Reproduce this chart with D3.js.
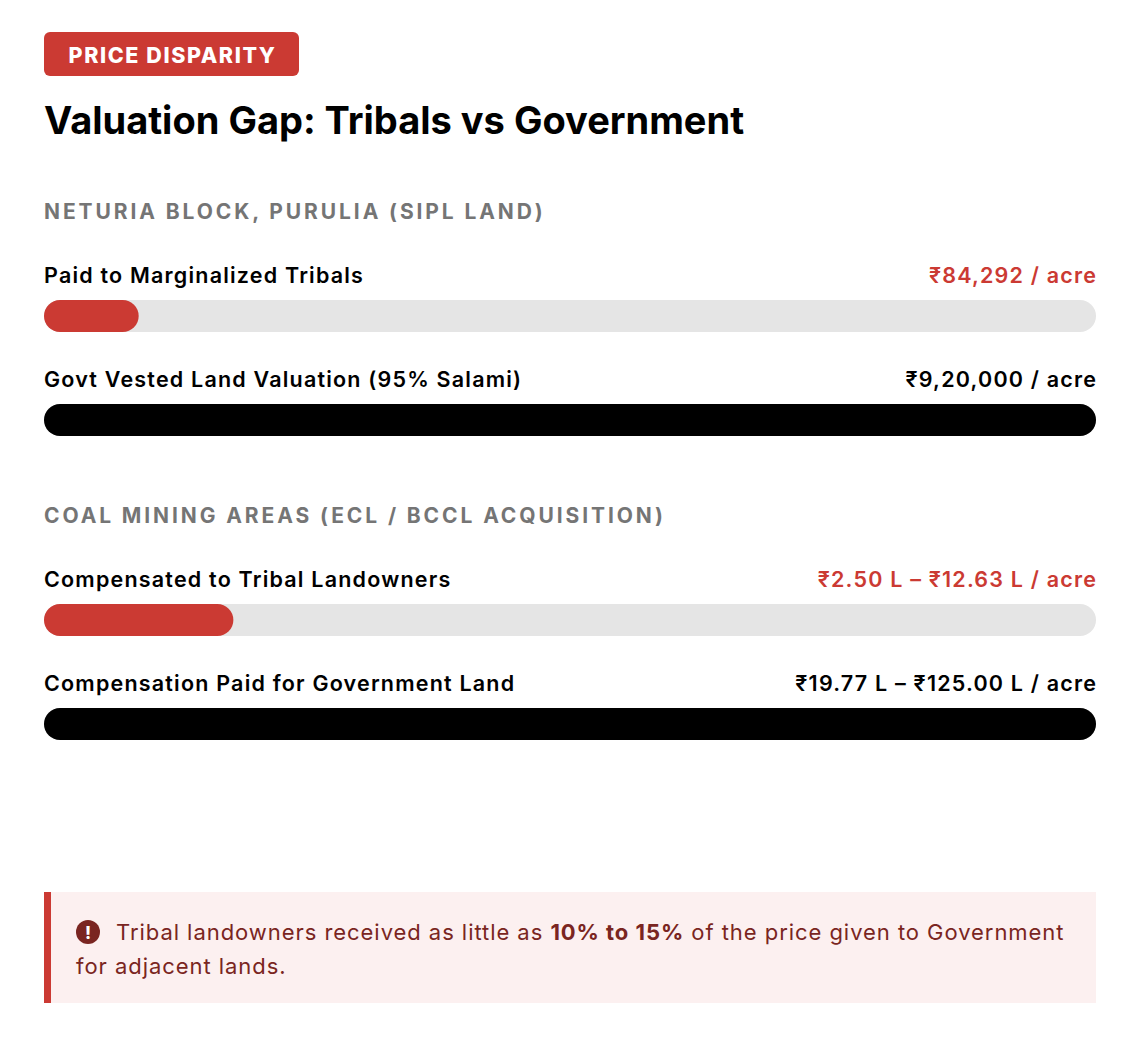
<!DOCTYPE html>
<meta charset="utf-8">
<style>
body { margin: 0; background: #fff; }
svg { display: block; font-family: Inter, "Noto Sans", sans-serif; }
</style>
<svg width="1144" height="1038"></svg>
<script src="https://cdn.jsdelivr.net/npm/d3@7"></script>
<script>

var badgeText = "PRICE DISPARITY";
var titleText = "Valuation Gap: Tribals vs Government";

var sections = ["NETURIA BLOCK, PURULIA (SIPL LAND)", "COAL MINING AREAS (ECL / BCCL ACQUISITION)"];
var rowSection = [0, 0, 1, 1];
var rowLabels = ["Paid to Marginalized Tribals", "Govt Vested Land Valuation (95% Salami)",
                 "Compensated to Tribal Landowners", "Compensation Paid for Government Land"];
var rowValueText = ["₹84,292 / acre", "₹9,20,000 / acre", "₹2.50 L – ₹12.63 L / acre", "₹19.77 L – ₹125.00 L / acre"];
// bar share of the track, in percent
var rowShare = [9, 100, 18, 100];
var rowIsTribal = [true, false, true, false];

var noteParts = [
    [{t: "Tribal landowners received as little as ", b: false}, {t: "10% to 15%", b: true}, {t: " of the price given to Government", b: false}],
    [{t: "for adjacent lands.", b: false}]
];

var red = "#cb3a33", dark = "#7a2521";

var svg = d3.select("svg"),
    left = 44, right = 1096,
    width = right - left;

var x = d3.scaleLinear().domain([0, 100]).range([0, width]);

// badge
svg.append("rect").attr("x", left).attr("y", 32).attr("width", 255).attr("height", 44)
    .attr("rx", 6).attr("fill", red);
svg.append("text").attr("x", left + 128.5).attr("y", 62.5).attr("text-anchor", "middle")
    .attr("fill", "#fff").attr("font-size", 21.5).attr("font-weight", 800).attr("letter-spacing", 1.6)
    .text(badgeText);

// title
svg.append("text").attr("x", left).attr("y", 134)
    .attr("font-size", 38).attr("font-weight", 700)
    .attr("fill", "#000").text(titleText);

// section headings
var sectionTop = [219, 523];
svg.selectAll(".sec").data(sections).enter().append("text")
    .attr("class", "sec")
    .attr("x", left).attr("y", function(d, i) { return sectionTop[i]; })
    .attr("font-size", 21).attr("font-weight", 700).attr("letter-spacing", 2.9)
    .attr("fill", "#757575").text(function(d) { return d; });

// rows
var rows = svg.selectAll(".row").data(rowLabels).enter().append("g")
    .attr("class", "row")
    .attr("transform", function(d, i) {
        var within = i - rowSection.indexOf(rowSection[i]);
        return "translate(" + left + "," + (sectionTop[rowSection[i]] + 64 + within * 104) + ")";
    });

rows.append("text")
    .attr("font-size", 21.5).attr("font-weight", 600).attr("letter-spacing", 1.2).attr("fill", "#000")
    .text(function(d) { return d; });

rows.append("text")
    .attr("x", width + 1.2).attr("text-anchor", "end")
    .attr("font-size", 21.5).attr("font-weight", 600).attr("letter-spacing", 1.2)
    .attr("fill", function(d, i) { return rowIsTribal[i] ? red : "#000"; })
    .text(function(d, i) { return rowValueText[i]; });

rows.append("rect")
    .attr("y", 17).attr("width", x(100)).attr("height", 32).attr("rx", 16)
    .attr("fill", "#e5e5e5");

rows.append("rect")
    .attr("y", 17).attr("width", function(d, i) { return x(rowShare[i]); })
    .attr("height", 32).attr("rx", 16)
    .attr("fill", function(d, i) { return rowIsTribal[i] ? red : "#000"; });

// callout
svg.append("rect").attr("x", left).attr("y", 892).attr("width", width).attr("height", 111)
    .attr("fill", "#fcf0f0");
svg.append("rect").attr("x", left).attr("y", 892).attr("width", 7).attr("height", 111)
    .attr("fill", red);

svg.append("circle").attr("cx", 88).attr("cy", 932).attr("r", 12).attr("fill", dark);
svg.append("text").attr("x", 88).attr("y", 939).attr("text-anchor", "middle")
    .attr("font-size", 17).attr("font-weight", 800).attr("fill", "#fff").text("!");

var note = svg.append("text").attr("font-size", 22).attr("letter-spacing", 0.95).attr("fill", dark);
noteParts.forEach(function(line, li) {
    line.forEach(function(p, pi) {
        var ts = note.append("tspan").text(p.t).attr("font-weight", p.b ? 700 : 400);
        if (pi === 0) ts.attr("x", li === 0 ? 116 : 76).attr("y", 940 + li * 34);
    });
});

</script>
